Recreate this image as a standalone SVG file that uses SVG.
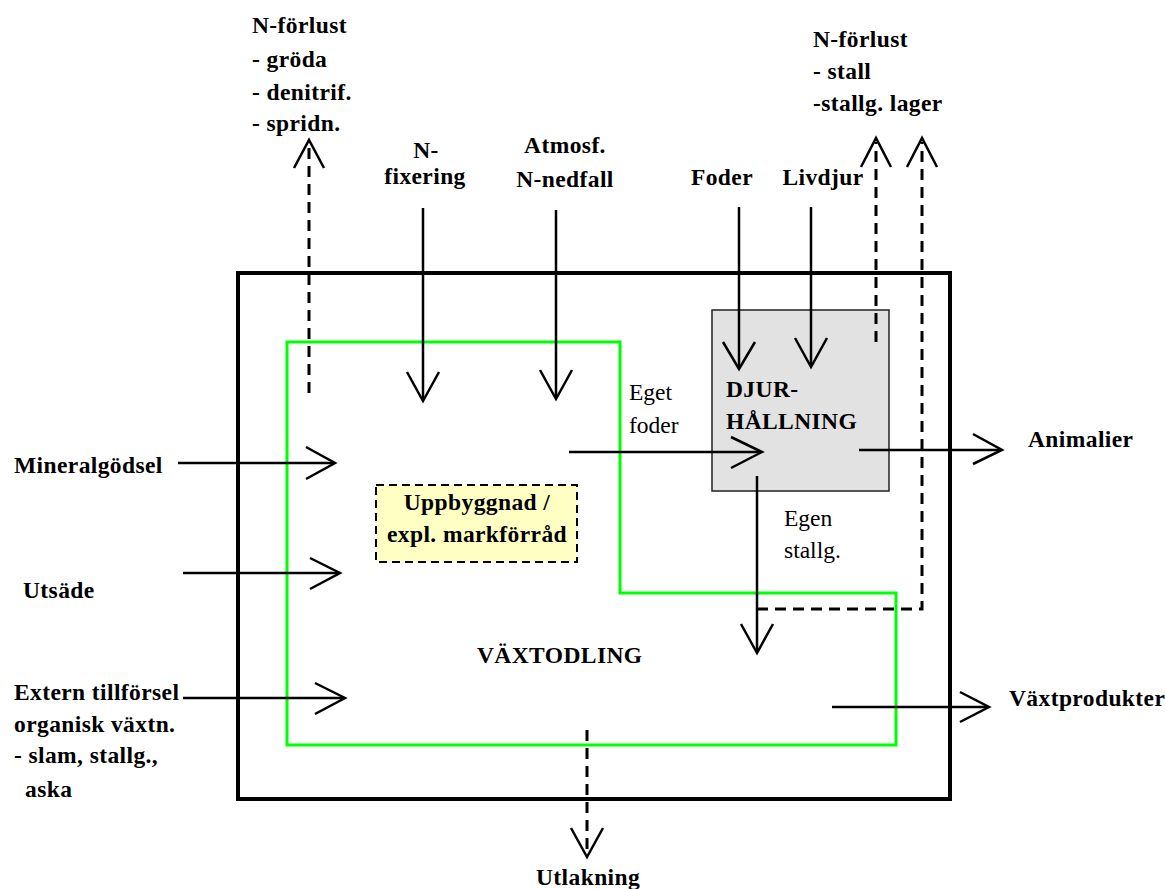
<svg xmlns="http://www.w3.org/2000/svg" width="1165" height="889" viewBox="0 0 1165 889">
<style>
.b{font-family:"Liberation Serif","Times New Roman",serif;font-weight:bold;font-size:23.5px;letter-spacing:0.4px;fill:#000}
.r{font-family:"Liberation Serif","Times New Roman",serif;font-size:23.5px;fill:#000}
.m{text-anchor:middle}
.ln{stroke:#000;stroke-width:2.5;fill:none}
.dl{stroke:#000;stroke-width:3;fill:none;stroke-dasharray:11 7}
.ah{stroke:#000;stroke-width:2.5;fill:none;stroke-linejoin:miter}
</style>
<rect width="1165" height="889" fill="#fff"/>
<g id="farm-boundary"><rect x="238" y="273" width="712" height="526" fill="none" stroke="#000" stroke-width="4"/></g>
<g id="vaxtodling">
<polygon points="287,342 620,342 620,593 896,593 896,745 287,745" fill="none" stroke="#00ff00" stroke-width="3"/>
<text class="b" x="477" y="663">VÄXTODLING</text>
</g>
<g id="djurhallning">
<rect x="712" y="310" width="177" height="181" fill="#e2e2e2" stroke="#222" stroke-width="1.5"/>
<text class="b" x="726" y="397">DJUR-</text>
<text class="b" x="726" y="429">HÅLLNING</text>
</g>
<g id="markforrad">
<rect x="376" y="485" width="201" height="77" fill="#ffffc4" stroke="#000" stroke-width="2" stroke-dasharray="8 5"/>
<text class="b m" x="477" y="510">Uppbyggnad /</text>
<text class="b m" x="477" y="542">expl. markförråd</text>
</g>
<g id="labels">
<text class="b" x="252" y="33">N-förlust</text>
<text class="b" x="252" y="67">-  gröda</text>
<text class="b" x="252" y="100">- denitrif.</text>
<text class="b" x="252" y="131">-  spridn.</text>
<text class="b m" x="426" y="158">N-</text>
<text class="b m" x="425" y="184">fixering</text>
<text class="b m" x="565" y="153">Atmosf.</text>
<text class="b m" x="565" y="187">N-nedfall</text>
<text class="b m" x="722" y="185">Foder</text>
<text class="b m" x="823" y="185">Livdjur</text>
<text class="b" x="813" y="47">N-förlust</text>
<text class="b" x="813" y="79">- stall</text>
<text class="b" x="813" y="111">-stallg. lager</text>
<text class="r" x="629" y="400">Eget</text>
<text class="r" x="629" y="433">foder</text>
<text class="r" x="784" y="526">Egen</text>
<text class="r" x="784" y="558">stallg.</text>
<text class="b" x="1028" y="447">Animalier</text>
<text class="b" x="14" y="473">Mineralgödsel</text>
<text class="b" x="23" y="598">Utsäde</text>
<text class="b" x="14" y="700">Extern tillförsel</text>
<text class="b" x="14" y="732">organisk växtn.</text>
<text class="b" x="14" y="763">- slam, stallg.,</text>
<text class="b" x="25" y="797">aska</text>
<text class="b" x="1009" y="706">Växtprodukter</text>
<text class="b" x="536" y="885">Utlakning</text>
</g>
<g id="connectors">
<line class="ln" x1="423" y1="208" x2="423" y2="400"/>
<polyline class="ah" points="407,372 423,401 439,372"/>
<line class="ln" x1="556" y1="210" x2="556" y2="398"/>
<polyline class="ah" points="540,370 556,399 572,370"/>
<line class="ln" x1="739" y1="207" x2="739" y2="368"/>
<polyline class="ah" points="723,342 739,369 755,342"/>
<line class="ln" x1="811" y1="207" x2="811" y2="366"/>
<polyline class="ah" points="795,338 811,367 827,338"/>
<line class="dl" x1="309" y1="393" x2="309" y2="143"/>
<polyline class="ah" points="294,168 309,140 324,168"/>
<line class="dl" x1="876" y1="342" x2="876" y2="142"/>
<polyline class="ah" points="861,167 876,138 891,167"/>
<polyline class="dl" points="757,609 922,609 922,142"/>
<polyline class="ah" points="907,167 922,138 937,167"/>
<line class="ln" x1="569" y1="452" x2="761" y2="452"/>
<polyline class="ah" points="731,437 762,452 731,468"/>
<line class="ln" x1="859" y1="450" x2="1001" y2="450"/>
<polyline class="ah" points="973,434 1002,450 973,464"/>
<line class="ln" x1="757" y1="476" x2="757" y2="652"/>
<polyline class="ah" points="741,624 757,653 773,624"/>
<line class="ln" x1="178" y1="463" x2="334" y2="463"/>
<polyline class="ah" points="306,447 335,463 306,479"/>
<line class="ln" x1="183" y1="573" x2="339" y2="573"/>
<polyline class="ah" points="310,558 340,573 310,589"/>
<line class="ln" x1="183" y1="698" x2="344" y2="698"/>
<polyline class="ah" points="315,683 345,698 315,714"/>
<line class="ln" x1="832" y1="707" x2="988" y2="707"/>
<polyline class="ah" points="960,692 989,707 960,722"/>
<line class="dl" x1="587" y1="730" x2="587" y2="855"/>
<polyline class="ah" points="571,828 587,857 603,828"/>
</g>
</svg>
